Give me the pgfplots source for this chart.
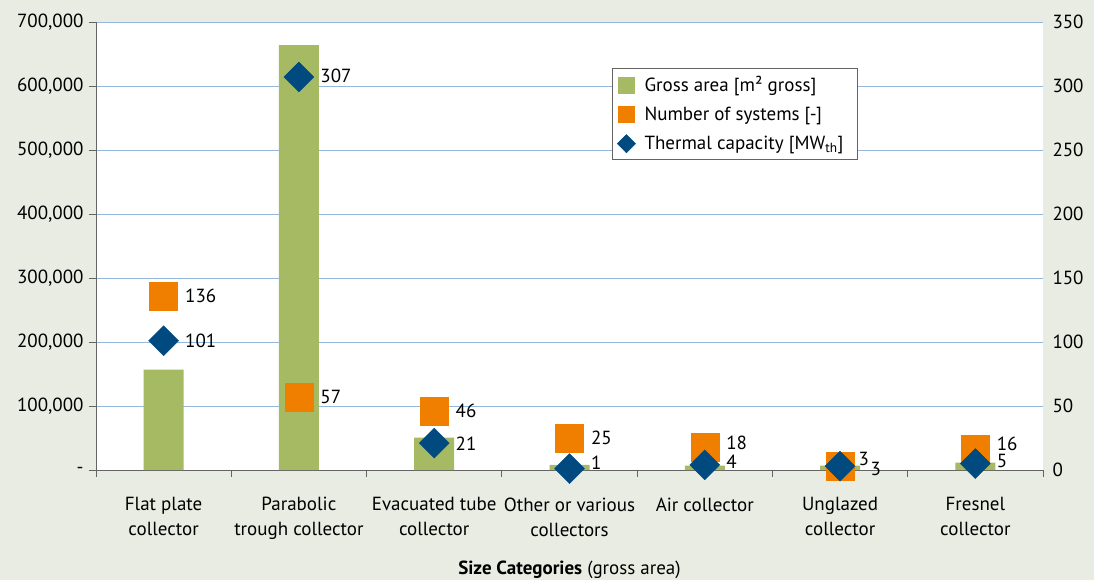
\documentclass[border=0pt]{standalone}
\usepackage{pgfplots}
\pgfplotsset{compat=1.18}
\usepackage{fontspec}
\setmainfont{PT Sans}
\definecolor{bg}{RGB}{232,236,226}
\definecolor{bargreen}{RGB}{166,185,99}
\definecolor{sysorange}{RGB}{240,127,0}
\definecolor{capblue}{RGB}{0,74,128}
\definecolor{gridblue}{RGB}{149,183,222}
\definecolor{axisgray}{RGB}{100,100,100}
\newcommand{\chartfont}{\fontsize{19bp}{25bp}\selectfont}
\begin{document}
\begin{tikzpicture}
\fill[bg] (0,0) rectangle (1094bp,580bp);
\begin{axis}[
  at={(96bp,110bp)}, anchor=south west,
  scale only axis, width=947bp, height=448bp,
  xmin=-0.5, xmax=6.5, ymin=0, ymax=700000,
  scaled y ticks=false,
  axis x line*=bottom, axis y line*=left,
  axis line style={draw=axisgray, line width=0.8pt},
  axis background/.style={fill=white},
  tick align=outside,
  ytick={0,100000,200000,300000,400000,500000,600000,700000},
  yticklabels={-,{100,000},{200,000},{300,000},{400,000},{500,000},{600,000},{700,000}},
  ytick style={draw=axisgray, line width=0.8pt},
  major tick length=7bp,
  ymajorgrids, grid style={draw=gridblue, line width=0.8pt},
  xtick={0,1,2,3,4,5,6},
  xticklabels={{Flat plate\\collector},{Parabolic\\trough collector},{Evacuated tube\\collector},{Other or various\\collectors},{Air collector},{Unglazed\\collector},{Fresnel\\collector}},
  xtick style={draw=none},
  xticklabel style={align=center, yshift=-17bp},
  extra x ticks={-0.5,0.5,1.5,2.5,3.5,4.5,5.5,6.5},
  extra x tick labels={},
  extra x tick style={grid=none, xtick style={draw=axisgray, line width=0.8pt}},
  ticklabel style={font=\chartfont, text=black},
  yticklabel style={xshift=-2bp},
  xlabel={\textbf{Size Categories} (gross area)},
  xlabel style={at={(axis description cs:0.5,-0.222)}, anchor=center, font=\chartfont},
]
\addplot[ybar, bar width=40bp, fill=bargreen, draw=none] coordinates {
  (0,157000) (1,664000) (2,50500) (3,8000) (4,7000) (5,7000) (6,11500)
};
\end{axis}
\begin{axis}[
  at={(96bp,110bp)}, anchor=south west,
  scale only axis, width=947bp, height=448bp,
  xmin=-0.5, xmax=6.5, ymin=0, ymax=350,
  axis x line=none, axis y line*=right,
  y axis line style={draw=none},
  ytick={0,50,100,150,200,250,300,350},
  yticklabels={0,50,100,150,200,250,300,350},
  ytick style={draw=none},
  yticklabel style={font=\chartfont, text=black, xshift=6bp},
  clip=false,
  legend style={at={(axis description cs:0.545,0.897)}, anchor=north west,
    draw=axisgray, fill=white, line width=0.6pt,
    font=\chartfont, row sep=10bp, inner xsep=5bp, inner ysep=6bp,
    nodes={inner xsep=9bp}},
  legend cell align=left,
]
\addlegendimage{only marks, mark=square*, mark size=8bp, color=bargreen}
\addlegendentry{Gross area [m² gross]}
\addplot[only marks, mark=square*, mark size=14bp, color=sysorange,
  legend image post style={mark size=8bp},
  visualization depends on={\thisrow{dy} \as \dy},
  visualization depends on={\thisrow{dx} \as \dx},
  nodes near coords, point meta=explicit symbolic,
  nodes near coords style={anchor=west, xshift=\dx bp, yshift=\dy bp, text=black, font=\chartfont}]
  table[meta=lab] {
  x y lab dy dx
  0 136 136 0 18
  1 57 57 0 18
  2 46 46 0 18
  3 25 25 0 18
  4 18 18 4 18
  5 3 3 7 15
  6 16 16 6 18
};
\addlegendentry{Number of systems [-]}
\addplot[only marks, mark=square*, mark size=10.6bp, color=capblue,
  mark options={rotate=45},
  legend image post style={mark size=6.4bp},
  visualization depends on={\thisrow{dy} \as \dy},
  visualization depends on={\thisrow{dx} \as \dx},
  nodes near coords, point meta=explicit symbolic,
  nodes near coords style={anchor=west, xshift=\dx bp, yshift=\dy bp, text=black, font=\chartfont}]
  table[meta=lab] {
  x y lab dy dx
  0 101 101 0 18
  1 307 307 1 18
  2 21 21 -1 18
  3 1 1 6 18
  4 4 4 3 18
  5 3 3 -3 27
  6 5 5 3 18
};
\addlegendentry{Thermal capacity [MW\textsubscript{th}]}
\end{axis}
\end{tikzpicture}
\end{document}
